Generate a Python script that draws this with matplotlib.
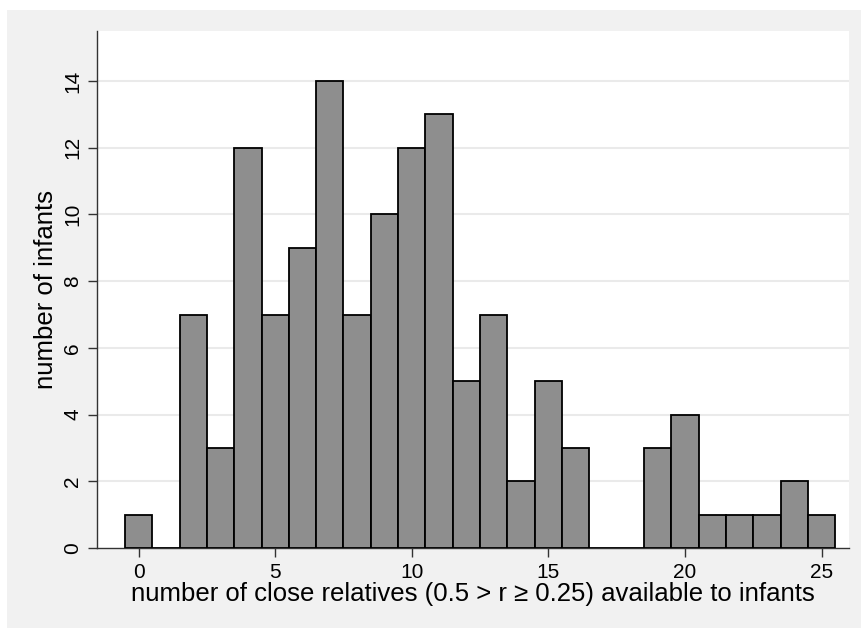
import matplotlib
matplotlib.use("Agg")
import matplotlib.pyplot as plt
from matplotlib.patches import Rectangle

plt.rcParams['font.family'] = ['Liberation Sans', 'DejaVu Sans']

relatives = list(range(0, 26))
infants = [1, 0, 7, 3, 12, 7, 9, 14, 7, 10, 12, 13, 5, 7, 2, 5, 3, 0, 0, 3, 4, 1, 1, 1, 2, 1]
x_ticks = [0, 5, 10, 15, 20, 25]
y_ticks = [0, 2, 4, 6, 8, 10, 12, 14]

fig = plt.figure(figsize=(8.61, 6.30), dpi=100, facecolor='white')
bg = Rectangle((7/861, 2/630), 1 - 7/861, 1 - 12/630,
               transform=fig.transFigure, facecolor='#F1F1F1',
               edgecolor='none', zorder=-10)
fig.add_artist(bg)

ax = fig.add_axes([97/861, 82/630, (849-97)/861, (548-31)/630])
ax.set_zorder(1)
ax.set_facecolor('white')

ax.bar(relatives, infants, width=1.0, color='#8E8E8E', edgecolor='black',
       linewidth=1.3, zorder=3)

ax.set_xlim(-1.52, 26.0)
ax.set_ylim(0, 15.5)
ax.set_xticks(x_ticks)
ax.set_yticks(y_ticks)
for y in y_ticks[1:]:
    ax.axhline(y, color='#EAEAEA', linewidth=1.5, zorder=1)

for s in ['top', 'right']:
    ax.spines[s].set_visible(False)
for s in ['left', 'bottom']:
    ax.spines[s].set_color('#333333')
    ax.spines[s].set_linewidth(1.0)

ax.tick_params(axis='both', direction='out', length=6.5, width=1.0,
               color='#333333', labelsize=15, pad=4)
ax.tick_params(axis='y', labelrotation=90)
for lbl in ax.get_yticklabels():
    lbl.set_verticalalignment('center')

ax.set_xlabel('number of close relatives (0.5 > r \u2265 0.25) available to infants',
              fontsize=18.5, labelpad=0)
ax.set_ylabel('number of infants', fontsize=18.5, labelpad=4)

fig.savefig('out.png', dpi=100, facecolor='white')
